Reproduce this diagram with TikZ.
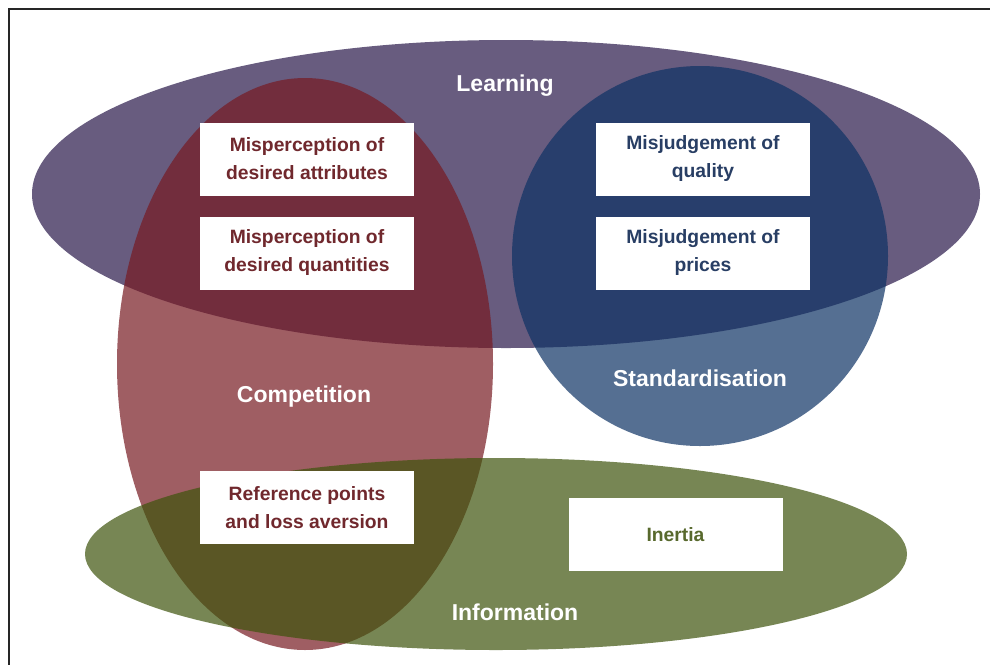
\documentclass[tikz,border=0pt]{standalone}
\usepackage{fontspec}
\setmainfont{Liberation Sans}
\definecolor{lrn}{RGB}{40,24,74}
\definecolor{cmp}{RGB}{119,26,34}
\definecolor{std}{RGB}{14,50,100}
\definecolor{inf}{RGB}{62,84,12}
\definecolor{redtxt}{RGB}{112,40,45}
\definecolor{bluetxt}{RGB}{40,62,100}
\definecolor{greentxt}{RGB}{88,105,45}
\begin{document}
\begin{tikzpicture}[x=1pt,y=-1pt,
  setbox/.style={fill=white, minimum width=214pt, minimum height=73pt, inner sep=0pt, align=center,
    font=\fontsize{19.3}{28}\selectfont\bfseries},
  setlabel/.style={text=white, font=\fontsize{23}{27}\selectfont\bfseries},
  blob/.style={fill opacity=0.7, draw=none},
  frameline/.style={line width=2pt, black!85}]
\useasboundingbox (0,0) rectangle (990,665);
\fill[white] (0,0) rectangle (990,665);
% frame
\draw[frameline] (990,9) -- (9,9) -- (9,665);
% sets
\fill[blob, lrn] (506,194) ellipse [x radius=474pt, y radius=154pt];
\fill[blob, cmp] (305,364) ellipse [x radius=188pt, y radius=286pt];
\fill[blob, std] (700,256) ellipse [x radius=188pt, y radius=190pt];
\fill[blob, inf] (496,554) ellipse [x radius=411pt, y radius=96pt];
% set labels
\node[setlabel] (learning) at (505,86) {Learning};
\node[setlabel] (competition) at (304,397) {Competition};
\node[setlabel] (standard) at (700,378) {Standardisation};
\node[setlabel] (information) at (515,612) {Information};
% boxes
\node[setbox, text=redtxt] (attr) at (307,159) {Misperception of\\desired attributes};
\node[setbox, text=redtxt] (quant) at (307,253) {Misperception of\\desired quantities};
\node[setbox, text=bluetxt] (qual) at (703,159) {Misjudgement of\\quality};
\node[setbox, text=bluetxt] (price) at (703,253) {Misjudgement of\\prices};
\node[setbox, text=redtxt] (refp) at (307,507.5) {Reference points\\and loss aversion};
\node[setbox, text=greentxt] (inertia) at (675.5,534.5) {Inertia};
\end{tikzpicture}
\end{document}
